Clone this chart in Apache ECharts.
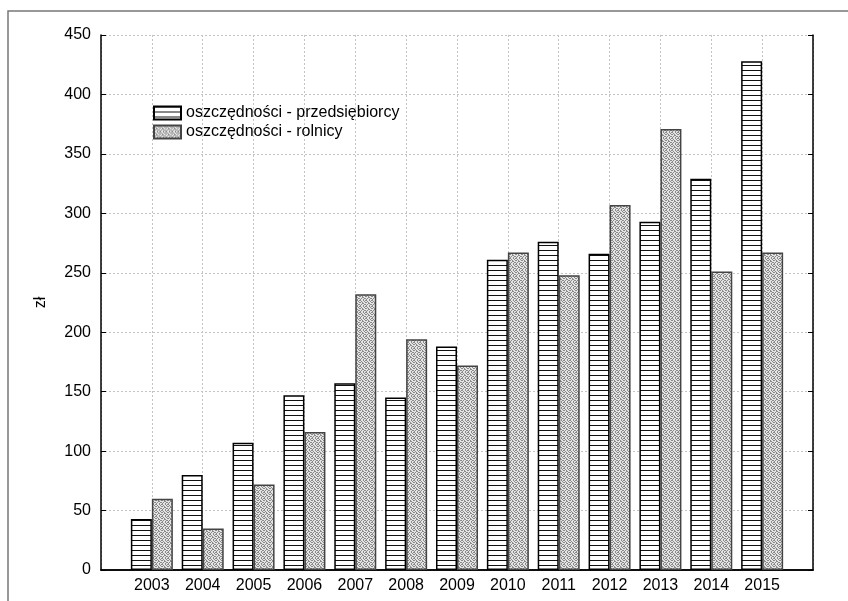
<!DOCTYPE html>
<html>
<head>
<meta charset="utf-8">
<script src="https://cdn.jsdelivr.net/npm/echarts@6/dist/echarts.min.js"></script>
<style>
  html, body { margin: 0; padding: 0; background: #fff; }
  #chart { width: 848px; height: 601px; }
</style>
</head>
<body>
<div id="chart"></div>
<script>
// dane
var lata = [2003, 2004, 2005, 2006, 2007, 2008, 2009, 2010, 2011, 2012, 2013, 2014, 2015];
var przedsiebiorcy = [43, 80, 107, 147, 157, 145, 188, 261, 276, 266, 293, 329, 428];
var rolnicy = [60, 35, 72, 116, 232, 194, 172, 267, 248, 307, 371, 251, 267];
var nazwySerii = ["oszczędności - przedsiębiorcy", "oszczędności - rolnicy"];

// wzór poziomych kresek
function wzorKreski() {
  var c = document.createElement("canvas");
  c.width = 4;
  c.height = 5;
  var ctx = c.getContext("2d");
  ctx.fillStyle = "#ffffff";
  ctx.fillRect(0, 0, 4, 5);
  ctx.fillStyle = "#111111";
  ctx.fillRect(0, 0, 4, 1);
  return c;
}

// wzór kropkowany (szary)
function wzorKropki() {
  var m = [
    [1, 0, 0, 1, 0, 1],
    [0, 1, 0, 0, 1, 0],
    [1, 0, 1, 0, 0, 1],
    [0, 0, 1, 1, 0, 0],
    [0, 1, 0, 0, 1, 1],
    [1, 0, 0, 1, 0, 0]
  ];
  var c = document.createElement("canvas");
  c.width = 6;
  c.height = 6;
  var ctx = c.getContext("2d");
  for (var y = 0; y < 6; y++) {
    for (var x = 0; x < 6; x++) {
      ctx.fillStyle = m[y][x] ? "#8a8a8a" : "#e4e4e4";
      ctx.fillRect(x, y, 1, 1);
    }
  }
  return c;
}

var czcionka = "Liberation Sans";

var dom = document.getElementById("chart");
var myChart = echarts.init(dom, null, { renderer: "canvas" });

var siatka = {
  show: true,
  lineStyle: { color: "#c4c4c4", type: [2, 2], width: 1 }
};

var option = {
  animation: false,
  textStyle: { fontFamily: czcionka },
  graphic: [
    {
      type: "rect",
      shape: { x: 8, y: 11, width: 900, height: 700 },
      style: { fill: "none", stroke: "#777", lineWidth: 1.5 },
      silent: true
    }
  ],
  legend: {
    orient: "vertical",
    left: 148,
    top: 100,
    icon: "rect",
    itemWidth: 27,
    itemHeight: 13,
    itemGap: 3,
    textStyle: { fontFamily: czcionka, fontSize: 16, color: "#000" },
    data: nazwySerii
  },
  grid: { left: 101, top: 35, right: 35, bottom: 31 },
  xAxis: [
    {
      type: "value",
      min: 2002,
      max: 2016,
      interval: 1,
      axisLine: { show: true, lineStyle: { color: "#000", width: 1.5 } },
      axisTick: { show: false },
      axisLabel: {
        color: "#000",
        fontSize: 16,
        margin: 8,
        formatter: function (v) {
          return lata.indexOf(v) >= 0 ? String(v) : "";
        }
      },
      splitLine: siatka
    },
    {
      type: "value",
      position: "top",
      min: 2002,
      max: 2016,
      axisLine: { show: true, lineStyle: { color: "#000", width: 1.5 } },
      axisTick: { show: false },
      axisLabel: { show: false },
      splitLine: { show: false }
    }
  ],
  yAxis: [
    {
      type: "value",
      min: 0,
      max: 450,
      interval: 50,
      name: "zł",
      nameLocation: "middle",
      nameGap: 52,
      nameTextStyle: { color: "#000", fontSize: 16 },
      axisLine: { show: true, lineStyle: { color: "#000", width: 1.5 } },
      axisTick: { show: true, inside: true, length: 5, lineStyle: { color: "#000" } },
      axisLabel: { color: "#000", fontSize: 16, margin: 10 },
      splitLine: siatka
    },
    {
      type: "value",
      position: "right",
      min: 0,
      max: 450,
      interval: 50,
      axisLine: { show: true, lineStyle: { color: "#000", width: 1.5 } },
      axisTick: { show: true, inside: true, length: 5, lineStyle: { color: "#000" } },
      axisLabel: { show: false },
      splitLine: { show: false }
    }
  ],
  series: [
    {
      name: nazwySerii[0],
      type: "bar",
      barWidth: 21,
      barGap: "0%",
      data: lata.map(function (r, i) { return [r, przedsiebiorcy[i]]; }),
      itemStyle: {
        color: { image: wzorKreski(), repeat: "repeat" },
        borderColor: "#000",
        borderWidth: 1.5
      }
    },
    {
      name: nazwySerii[1],
      type: "bar",
      barWidth: 21,
      barGap: "0%",
      data: lata.map(function (r, i) { return [r, rolnicy[i]]; }),
      itemStyle: {
        color: { image: wzorKropki(), repeat: "repeat" },
        borderColor: "#444",
        borderWidth: 1.5
      }
    }
  ]
};

myChart.setOption(option);
</script>
</body>
</html>
